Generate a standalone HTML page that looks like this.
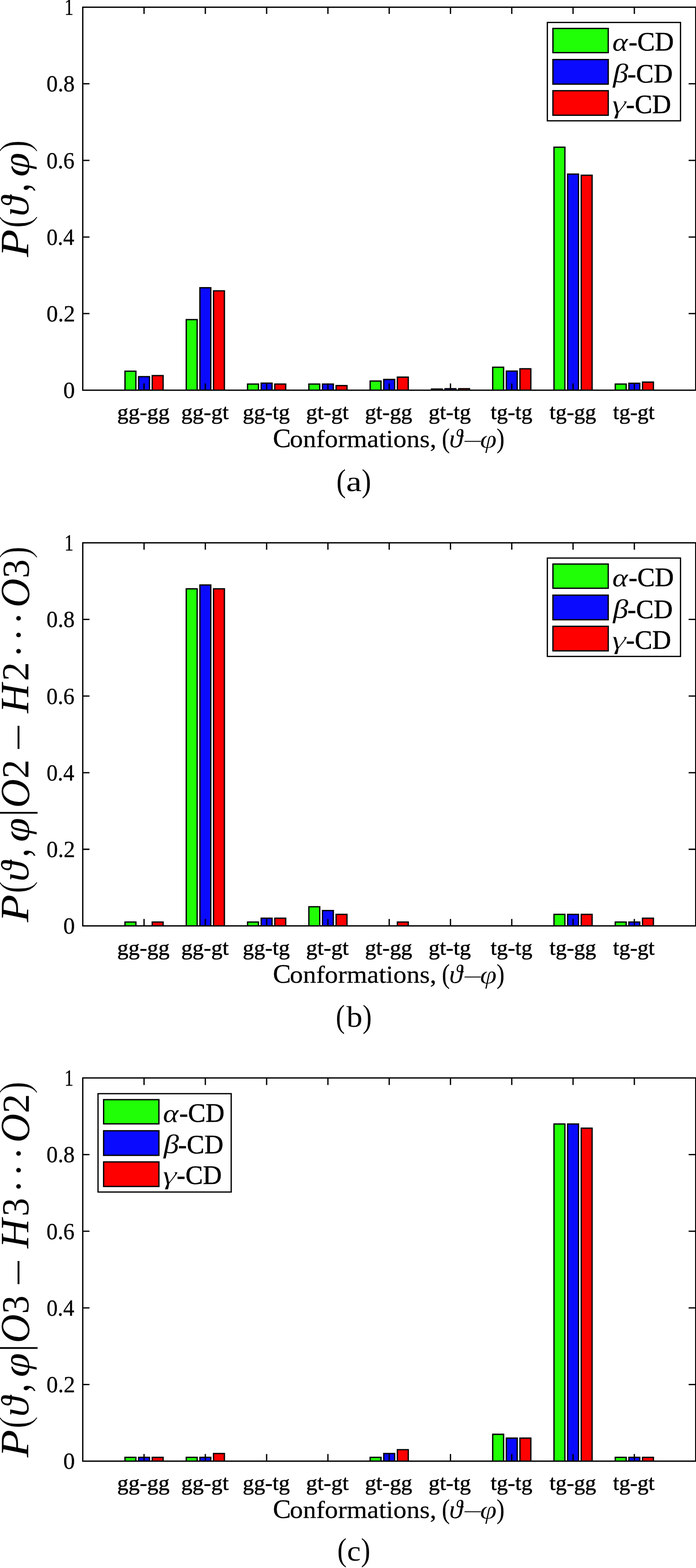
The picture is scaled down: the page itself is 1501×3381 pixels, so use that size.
<!DOCTYPE html>
<html lang="en"><head><meta charset="utf-8"><title>Conformation probabilities</title>
<style>
html,body{margin:0;padding:0;background:#fff;}
body{width:1501px;height:3381px;overflow:hidden;}
svg{display:block;}
text{font-family:"Liberation Serif","DejaVu Serif",serif;fill:#000;stroke:#000;stroke-width:0.4;white-space:pre;}
.cm{stroke:none;}
.xl{stroke-width:0.3;}
.lg{stroke-width:0.7;}
.t3{stroke:#fff;stroke-width:0.5;paint-order:fill stroke;}
.xt{stroke-width:0.7;}
.t2{stroke:#fff;stroke-width:1;paint-order:fill stroke;}
.th{stroke:#fff;stroke-width:1.6;paint-order:fill stroke;}
.it{font-style:italic;}
.ln{stroke:#000;stroke-width:2.8;fill:none;}
.bar{stroke:#000;stroke-width:2.8;}
</style></head><body>
<svg width="1501" height="3381" viewBox="0 0 1501 3381" role="img" aria-label="Conformation probability bar charts (a), (b), (c)">
<rect x="0" y="0" width="1501" height="3381" fill="#fff"/>
<g id="chart-a">
<path class="bar" d="M269.55 841.35V800.47H293.05V841.35" fill="#20ff06"/>
<path class="bar" d="M298.92 841.35V812.2H322.42V841.35" fill="#0a0aff"/>
<path class="bar" d="M328.29 841.35V809.97H351.79V841.35" fill="#ff0000"/>
<path class="bar" d="M401.72 841.35V689.16H425.22V841.35" fill="#20ff06"/>
<path class="bar" d="M431.09 841.35V620.45H454.59V841.35" fill="#0a0aff"/>
<path class="bar" d="M460.46 841.35V627.22H483.96V841.35" fill="#ff0000"/>
<path class="bar" d="M533.89 841.35V828.14H557.39V841.35" fill="#20ff06"/>
<path class="bar" d="M563.26 841.35V826.07H586.76V841.35" fill="#0a0aff"/>
<path class="bar" d="M592.63 841.35V828.14H616.13V841.35" fill="#ff0000"/>
<path class="bar" d="M666.06 841.35V828.14H689.56V841.35" fill="#20ff06"/>
<path class="bar" d="M695.43 841.35V828.14H718.93V841.35" fill="#0a0aff"/>
<path class="bar" d="M724.8 841.35V831.44H748.3V841.35" fill="#ff0000"/>
<path class="bar" d="M798.23 841.35V821.53H821.73V841.35" fill="#20ff06"/>
<path class="bar" d="M827.6 841.35V818.23H851.1V841.35" fill="#0a0aff"/>
<path class="bar" d="M856.97 841.35V813.27H880.47V841.35" fill="#ff0000"/>
<path class="bar" d="M930.4 841.35V838.87H953.9V841.35" fill="#20ff06"/>
<path class="bar" d="M959.77 841.35V838.05H983.27V841.35" fill="#0a0aff"/>
<path class="bar" d="M989.14 841.35V838.05H1012.64V841.35" fill="#ff0000"/>
<path class="bar" d="M1062.57 841.35V791.8H1086.07V841.35" fill="#20ff06"/>
<path class="bar" d="M1091.94 841.35V800.06H1115.44V841.35" fill="#0a0aff"/>
<path class="bar" d="M1121.31 841.35V795.11H1144.81V841.35" fill="#ff0000"/>
<path class="bar" d="M1194.74 841.35V317.38H1218.24V841.35" fill="#20ff06"/>
<path class="bar" d="M1224.11 841.35V375.35H1247.61V841.35" fill="#0a0aff"/>
<path class="bar" d="M1253.48 841.35V377.83H1276.98V841.35" fill="#ff0000"/>
<path class="bar" d="M1326.91 841.35V828.14H1350.41V841.35" fill="#20ff06"/>
<path class="bar" d="M1356.28 841.35V826.49H1379.78V841.35" fill="#0a0aff"/>
<path class="bar" d="M1385.65 841.35V824.01H1409.15V841.35" fill="#ff0000"/>
<path class="ln" d="M310.67 841.35v-14.5M310.67 15.55v14.5M442.84 841.35v-14.5M442.84 15.55v14.5M575.01 841.35v-14.5M575.01 15.55v14.5M707.18 841.35v-14.5M707.18 15.55v14.5M839.35 841.35v-14.5M839.35 15.55v14.5M971.52 841.35v-14.5M971.52 15.55v14.5M1103.69 841.35v-14.5M1103.69 15.55v14.5M1235.86 841.35v-14.5M1235.86 15.55v14.5M1368.03 841.35v-14.5M1368.03 15.55v14.5M178.5 676.19h14.5M1500.4 676.19h-15.3M178.5 511.03h14.5M1500.4 511.03h-15.3M178.5 345.87h14.5M1500.4 345.87h-15.3M178.5 180.71h14.5M1500.4 180.71h-15.3"/>
<rect class="ln" x="178.5" y="15.55" width="1321.9" height="825.8"/>
<text><tspan x="136.49" y="858.1" font-size="50.5" textLength="25.01" lengthAdjust="spacingAndGlyphs">0</tspan></text>
<text><tspan x="100.32" y="692.94" font-size="50.5" textLength="61.7" lengthAdjust="spacingAndGlyphs">0.2</tspan></text>
<text><tspan x="100.38" y="527.78" font-size="50.5" textLength="59.66" lengthAdjust="spacingAndGlyphs">0.4</tspan></text>
<text><tspan x="100.36" y="362.62" font-size="50.5" textLength="60.38" lengthAdjust="spacingAndGlyphs">0.6</tspan></text>
<text><tspan x="100.35" y="197.46" font-size="50.5" textLength="60.81" lengthAdjust="spacingAndGlyphs">0.8</tspan></text>
<text><tspan x="138.88" y="32.3" font-size="50.5" textLength="19.46" lengthAdjust="spacingAndGlyphs">1</tspan></text>
<text class="xt"><tspan x="252.72" y="904.35" font-size="47" textLength="113" lengthAdjust="spacingAndGlyphs">gg-gg</tspan></text>
<text class="xt"><tspan x="390.81" y="904.35" font-size="47" textLength="102.47" lengthAdjust="spacingAndGlyphs">gg-gt</tspan></text>
<text class="xt"><tspan x="523.63" y="904.35" font-size="47" textLength="101.48" lengthAdjust="spacingAndGlyphs">gg-tg</tspan></text>
<text class="xt"><tspan x="660.11" y="904.35" font-size="47" textLength="91.88" lengthAdjust="spacingAndGlyphs">gt-gt</tspan></text>
<text class="xt"><tspan x="786.92" y="904.35" font-size="47" textLength="102.1" lengthAdjust="spacingAndGlyphs">gt-gg</tspan></text>
<text class="xt"><tspan x="924.22" y="904.35" font-size="47" textLength="91.3" lengthAdjust="spacingAndGlyphs">gt-tg</tspan></text>
<text class="xt"><tspan x="1058.03" y="904.35" font-size="47" textLength="89.97" lengthAdjust="spacingAndGlyphs">tg-tg</tspan></text>
<text class="xt"><tspan x="1185.14" y="904.35" font-size="47" textLength="100.47" lengthAdjust="spacingAndGlyphs">tg-gg</tspan></text>
<text class="xt"><tspan x="1321.94" y="904.35" font-size="47" textLength="89.84" lengthAdjust="spacingAndGlyphs">tg-gt</tspan></text>
<text class="xl"><tspan x="588.51" y="964.15" font-size="57.6" textLength="38.91" lengthAdjust="spacingAndGlyphs">C</tspan><tspan x="625.14" y="964.15" font-size="53" textLength="330.17" lengthAdjust="spacingAndGlyphs">onformations, </tspan><tspan x="952.96" y="965.05" font-size="60.2" textLength="16.99" lengthAdjust="spacingAndGlyphs">(</tspan><tspan x="968.79" y="964.15" font-size="54.5" textLength="28.83" lengthAdjust="spacingAndGlyphs" class="it" style="stroke:none">ϑ</tspan><tspan x="1001.68" y="963.55" font-size="55" textLength="35.14" lengthAdjust="spacingAndGlyphs" class="t3">–</tspan><tspan x="1034.95" y="964.75" font-size="54" textLength="36.24" lengthAdjust="spacingAndGlyphs" class="it t3">φ</tspan><tspan x="1071.06" y="965.05" font-size="60.2" textLength="16.99" lengthAdjust="spacingAndGlyphs">)</tspan></text>
<text class="cm"><tspan x="725.4" y="1060.25" font-size="69.8" textLength="20.49" lengthAdjust="spacingAndGlyphs">(</tspan><tspan x="746.54" y="1059.45" font-size="61.5" textLength="33.6" lengthAdjust="spacingAndGlyphs">a</tspan><tspan x="780.03" y="1060.25" font-size="69.8" textLength="20.36" lengthAdjust="spacingAndGlyphs">)</tspan></text>
<text class="cm" transform="translate(61.2 555) rotate(-90)"><tspan x="0.73" y="0" font-size="86" textLength="59.76" lengthAdjust="spacingAndGlyphs" class="it">P</tspan><tspan x="62.66" y="1.05" font-size="92.2" textLength="27.62" lengthAdjust="spacingAndGlyphs" class="th">(</tspan><tspan x="88.46" y="0" font-size="84" textLength="43.54" lengthAdjust="spacingAndGlyphs" class="it">ϑ</tspan><tspan x="141.19" y="0" font-size="100" textLength="36.93" lengthAdjust="spacingAndGlyphs">, </tspan><tspan x="173.79" y="0.6" font-size="79.5" textLength="52.19" lengthAdjust="spacingAndGlyphs" class="it">φ</tspan><tspan x="225.73" y="1.05" font-size="92.2" textLength="27.62" lengthAdjust="spacingAndGlyphs" class="th">)</tspan></text>
<rect x="1180.4" y="48.4" width="287.2" height="212.1" fill="#fff" stroke="#000" stroke-width="2.7"/>
<rect class="bar" x="1192.45" y="61.3" width="119.3" height="52.2" fill="#20ff06"/>
<text><tspan x="1320.4" y="109.2" font-size="55" textLength="33.54" lengthAdjust="spacingAndGlyphs" class="it cm">α</tspan><tspan x="1355.7" y="109.2" font-size="58" textLength="97.57" lengthAdjust="spacingAndGlyphs" class="lg">-CD</tspan></text>
<rect class="bar" x="1192.45" y="128.4" width="119.3" height="53" fill="#0a0aff"/>
<text><tspan x="1321.97" y="176.6" font-size="56.7" textLength="32.93" lengthAdjust="spacingAndGlyphs" class="it cm">β</tspan><tspan x="1352.89" y="177.6" font-size="58" textLength="97.88" lengthAdjust="spacingAndGlyphs" class="lg">-CD</tspan></text>
<rect class="bar" x="1192.45" y="195.6" width="119.3" height="52.9" fill="#ff0000"/>
<text><tspan x="1319.06" y="243.6" font-size="57.3" textLength="31.39" lengthAdjust="spacingAndGlyphs" class="it t2">γ</tspan><tspan x="1350.11" y="243.6" font-size="58" textLength="97.15" lengthAdjust="spacingAndGlyphs" class="lg">-CD</tspan></text>
</g>
<g id="chart-b">
<path class="bar" d="M269.55 1996.45V1988.19H293.05V1996.45" fill="#20ff06"/>
<path class="bar" d="M328.29 1996.45V1988.19H351.79V1996.45" fill="#ff0000"/>
<path class="bar" d="M401.72 1996.45V1269.57H425.22V1996.45" fill="#20ff06"/>
<path class="bar" d="M431.09 1996.45V1261.31H454.59V1996.45" fill="#0a0aff"/>
<path class="bar" d="M460.46 1996.45V1269.57H483.96V1996.45" fill="#ff0000"/>
<path class="bar" d="M533.89 1996.45V1988.19H557.39V1996.45" fill="#20ff06"/>
<path class="bar" d="M563.26 1996.45V1979.93H586.76V1996.45" fill="#0a0aff"/>
<path class="bar" d="M592.63 1996.45V1979.93H616.13V1996.45" fill="#ff0000"/>
<path class="bar" d="M666.06 1996.45V1955.15H689.56V1996.45" fill="#20ff06"/>
<path class="bar" d="M695.43 1996.45V1963.41H718.93V1996.45" fill="#0a0aff"/>
<path class="bar" d="M724.8 1996.45V1971.67H748.3V1996.45" fill="#ff0000"/>
<path class="bar" d="M856.97 1996.45V1988.19H880.47V1996.45" fill="#ff0000"/>
<path class="bar" d="M1194.74 1996.45V1971.67H1218.24V1996.45" fill="#20ff06"/>
<path class="bar" d="M1224.11 1996.45V1971.67H1247.61V1996.45" fill="#0a0aff"/>
<path class="bar" d="M1253.48 1996.45V1971.67H1276.98V1996.45" fill="#ff0000"/>
<path class="bar" d="M1326.91 1996.45V1988.19H1350.41V1996.45" fill="#20ff06"/>
<path class="bar" d="M1356.28 1996.45V1988.19H1379.78V1996.45" fill="#0a0aff"/>
<path class="bar" d="M1385.65 1996.45V1979.93H1409.15V1996.45" fill="#ff0000"/>
<path class="ln" d="M310.67 1996.45v-14.9M310.67 1170.45v14.9M442.84 1996.45v-14.9M442.84 1170.45v14.9M575.01 1996.45v-14.9M575.01 1170.45v14.9M707.18 1996.45v-14.9M707.18 1170.45v14.9M839.35 1996.45v-14.9M839.35 1170.45v14.9M971.52 1996.45v-14.9M971.52 1170.45v14.9M1103.69 1996.45v-14.9M1103.69 1170.45v14.9M1235.86 1996.45v-14.9M1235.86 1170.45v14.9M1368.03 1996.45v-14.9M1368.03 1170.45v14.9M178.5 1831.25h14.5M1500.4 1831.25h-15.3M178.5 1666.05h14.5M1500.4 1666.05h-15.3M178.5 1500.85h14.5M1500.4 1500.85h-15.3M178.5 1335.65h14.5M1500.4 1335.65h-15.3"/>
<rect class="ln" x="178.5" y="1170.45" width="1321.9" height="826"/>
<text><tspan x="136.49" y="2013.2" font-size="50.5" textLength="25.01" lengthAdjust="spacingAndGlyphs">0</tspan></text>
<text><tspan x="100.32" y="1848" font-size="50.5" textLength="61.7" lengthAdjust="spacingAndGlyphs">0.2</tspan></text>
<text><tspan x="100.38" y="1682.8" font-size="50.5" textLength="59.66" lengthAdjust="spacingAndGlyphs">0.4</tspan></text>
<text><tspan x="100.36" y="1517.6" font-size="50.5" textLength="60.38" lengthAdjust="spacingAndGlyphs">0.6</tspan></text>
<text><tspan x="100.35" y="1352.4" font-size="50.5" textLength="60.81" lengthAdjust="spacingAndGlyphs">0.8</tspan></text>
<text><tspan x="138.88" y="1187.2" font-size="50.5" textLength="19.46" lengthAdjust="spacingAndGlyphs">1</tspan></text>
<text class="xt"><tspan x="252.72" y="2059.45" font-size="47" textLength="113" lengthAdjust="spacingAndGlyphs">gg-gg</tspan></text>
<text class="xt"><tspan x="390.81" y="2059.45" font-size="47" textLength="102.47" lengthAdjust="spacingAndGlyphs">gg-gt</tspan></text>
<text class="xt"><tspan x="523.63" y="2059.45" font-size="47" textLength="101.48" lengthAdjust="spacingAndGlyphs">gg-tg</tspan></text>
<text class="xt"><tspan x="660.11" y="2059.45" font-size="47" textLength="91.88" lengthAdjust="spacingAndGlyphs">gt-gt</tspan></text>
<text class="xt"><tspan x="786.92" y="2059.45" font-size="47" textLength="102.1" lengthAdjust="spacingAndGlyphs">gt-gg</tspan></text>
<text class="xt"><tspan x="924.22" y="2059.45" font-size="47" textLength="91.3" lengthAdjust="spacingAndGlyphs">gt-tg</tspan></text>
<text class="xt"><tspan x="1058.03" y="2059.45" font-size="47" textLength="89.97" lengthAdjust="spacingAndGlyphs">tg-tg</tspan></text>
<text class="xt"><tspan x="1185.14" y="2059.45" font-size="47" textLength="100.47" lengthAdjust="spacingAndGlyphs">tg-gg</tspan></text>
<text class="xt"><tspan x="1321.94" y="2059.45" font-size="47" textLength="89.84" lengthAdjust="spacingAndGlyphs">tg-gt</tspan></text>
<text class="xl"><tspan x="588.51" y="2119.25" font-size="57.6" textLength="38.91" lengthAdjust="spacingAndGlyphs">C</tspan><tspan x="625.14" y="2119.25" font-size="53" textLength="330.17" lengthAdjust="spacingAndGlyphs">onformations, </tspan><tspan x="952.96" y="2120.15" font-size="60.2" textLength="16.99" lengthAdjust="spacingAndGlyphs">(</tspan><tspan x="968.79" y="2119.25" font-size="54.5" textLength="28.83" lengthAdjust="spacingAndGlyphs" class="it" style="stroke:none">ϑ</tspan><tspan x="1001.68" y="2118.65" font-size="55" textLength="35.14" lengthAdjust="spacingAndGlyphs" class="t3">–</tspan><tspan x="1034.95" y="2119.85" font-size="54" textLength="36.24" lengthAdjust="spacingAndGlyphs" class="it t3">φ</tspan><tspan x="1071.06" y="2120.15" font-size="60.2" textLength="16.99" lengthAdjust="spacingAndGlyphs">)</tspan></text>
<text class="cm"><tspan x="724.32" y="2215.25" font-size="69.8" textLength="19.58" lengthAdjust="spacingAndGlyphs">(</tspan><tspan x="747.3" y="2214.45" font-size="62.4" textLength="34.42" lengthAdjust="spacingAndGlyphs">b</tspan><tspan x="782.09" y="2215.25" font-size="69.8" textLength="19.71" lengthAdjust="spacingAndGlyphs">)</tspan></text>
<text class="cm" transform="translate(61.2 1989.3) rotate(-90)"><tspan x="0.73" y="0" font-size="86" textLength="59.76" lengthAdjust="spacingAndGlyphs" class="it">P</tspan><tspan x="62.66" y="1.05" font-size="92.2" textLength="27.62" lengthAdjust="spacingAndGlyphs" class="th">(</tspan><tspan x="88.46" y="0" font-size="84" textLength="43.54" lengthAdjust="spacingAndGlyphs" class="it">ϑ</tspan><tspan x="141.19" y="0" font-size="100" textLength="36.93" lengthAdjust="spacingAndGlyphs">, </tspan><tspan x="173.79" y="0.6" font-size="79.5" textLength="52.19" lengthAdjust="spacingAndGlyphs" class="it">φ</tspan><tspan x="228.96" y="0.5" font-size="90.2" textLength="15.27" lengthAdjust="spacingAndGlyphs">|</tspan><tspan x="247.29" y="0.8" font-size="88.5" textLength="61.92" lengthAdjust="spacingAndGlyphs" class="it">O</tspan><tspan x="310.5" y="0" font-size="83" textLength="61.37" lengthAdjust="spacingAndGlyphs">2 </tspan><tspan x="369.06" y="6.1" font-size="82" textLength="87.29" lengthAdjust="spacingAndGlyphs">− </tspan><tspan x="451.74" y="0" font-size="86" textLength="63.41" lengthAdjust="spacingAndGlyphs" class="it">H</tspan><tspan x="520.7" y="0" font-size="83" textLength="61.37" lengthAdjust="spacingAndGlyphs">2 </tspan><tspan x="571.19" y="7.1" font-size="84.6" textLength="27.62" lengthAdjust="spacingAndGlyphs">·</tspan><tspan x="606.29" y="7.1" font-size="84.6" textLength="27.62" lengthAdjust="spacingAndGlyphs">·</tspan><tspan x="642.19" y="7.1" font-size="84.6" textLength="48.35" lengthAdjust="spacingAndGlyphs">· </tspan><tspan x="679.66" y="0.8" font-size="88.5" textLength="62.26" lengthAdjust="spacingAndGlyphs" class="it">O</tspan><tspan x="742.61" y="0.4" font-size="83" textLength="40.67" lengthAdjust="spacingAndGlyphs">3</tspan><tspan x="784.03" y="1.05" font-size="92.2" textLength="27.62" lengthAdjust="spacingAndGlyphs" class="th">)</tspan></text>
<rect x="1180.4" y="1203.3" width="287.2" height="212.1" fill="#fff" stroke="#000" stroke-width="2.7"/>
<rect class="bar" x="1192.45" y="1216.2" width="119.3" height="52.2" fill="#20ff06"/>
<text><tspan x="1320.4" y="1264.1" font-size="55" textLength="33.54" lengthAdjust="spacingAndGlyphs" class="it cm">α</tspan><tspan x="1355.7" y="1264.1" font-size="58" textLength="97.57" lengthAdjust="spacingAndGlyphs" class="lg">-CD</tspan></text>
<rect class="bar" x="1192.45" y="1283.3" width="119.3" height="53" fill="#0a0aff"/>
<text><tspan x="1321.97" y="1331.5" font-size="56.7" textLength="32.93" lengthAdjust="spacingAndGlyphs" class="it cm">β</tspan><tspan x="1352.89" y="1332.5" font-size="58" textLength="97.88" lengthAdjust="spacingAndGlyphs" class="lg">-CD</tspan></text>
<rect class="bar" x="1192.45" y="1350.5" width="119.3" height="52.9" fill="#ff0000"/>
<text><tspan x="1319.06" y="1398.5" font-size="57.3" textLength="31.39" lengthAdjust="spacingAndGlyphs" class="it t2">γ</tspan><tspan x="1350.11" y="1398.5" font-size="58" textLength="97.15" lengthAdjust="spacingAndGlyphs" class="lg">-CD</tspan></text>
</g>
<g id="chart-c">
<path class="bar" d="M269.55 3150.6V3142.34H293.05V3150.6" fill="#20ff06"/>
<path class="bar" d="M298.92 3150.6V3142.34H322.42V3150.6" fill="#0a0aff"/>
<path class="bar" d="M328.29 3150.6V3142.34H351.79V3150.6" fill="#ff0000"/>
<path class="bar" d="M401.72 3150.6V3142.34H425.22V3150.6" fill="#20ff06"/>
<path class="bar" d="M431.09 3150.6V3142.34H454.59V3150.6" fill="#0a0aff"/>
<path class="bar" d="M460.46 3150.6V3134.07H483.96V3150.6" fill="#ff0000"/>
<path class="bar" d="M798.23 3150.6V3142.34H821.73V3150.6" fill="#20ff06"/>
<path class="bar" d="M827.6 3150.6V3134.07H851.1V3150.6" fill="#0a0aff"/>
<path class="bar" d="M856.97 3150.6V3125.81H880.47V3150.6" fill="#ff0000"/>
<path class="bar" d="M1062.57 3150.6V3092.76H1086.07V3150.6" fill="#20ff06"/>
<path class="bar" d="M1091.94 3150.6V3101.02H1115.44V3150.6" fill="#0a0aff"/>
<path class="bar" d="M1121.31 3150.6V3101.02H1144.81V3150.6" fill="#ff0000"/>
<path class="bar" d="M1194.74 3150.6V2423.62H1218.24V3150.6" fill="#20ff06"/>
<path class="bar" d="M1224.11 3150.6V2423.62H1247.61V3150.6" fill="#0a0aff"/>
<path class="bar" d="M1253.48 3150.6V2432.63H1276.98V3150.6" fill="#ff0000"/>
<path class="bar" d="M1326.91 3150.6V3142.34H1350.41V3150.6" fill="#20ff06"/>
<path class="bar" d="M1356.28 3150.6V3142.34H1379.78V3150.6" fill="#0a0aff"/>
<path class="bar" d="M1385.65 3150.6V3142.34H1409.15V3150.6" fill="#ff0000"/>
<path class="ln" d="M310.67 3150.6v-15.3M310.67 2324.3v15.3M442.84 3150.6v-15.3M442.84 2324.3v15.3M575.01 3150.6v-15.3M575.01 2324.3v15.3M707.18 3150.6v-15.3M707.18 2324.3v15.3M839.35 3150.6v-15.3M839.35 2324.3v15.3M971.52 3150.6v-15.3M971.52 2324.3v15.3M1103.69 3150.6v-15.3M1103.69 2324.3v15.3M1235.86 3150.6v-15.3M1235.86 2324.3v15.3M1368.03 3150.6v-15.3M1368.03 2324.3v15.3M178.5 2985.34h14.5M1500.4 2985.34h-15.3M178.5 2820.08h14.5M1500.4 2820.08h-15.3M178.5 2654.82h14.5M1500.4 2654.82h-15.3M178.5 2489.56h14.5M1500.4 2489.56h-15.3"/>
<rect class="ln" x="178.5" y="2324.3" width="1321.9" height="826.3"/>
<text><tspan x="136.49" y="3167.35" font-size="50.5" textLength="25.01" lengthAdjust="spacingAndGlyphs">0</tspan></text>
<text><tspan x="100.32" y="3002.09" font-size="50.5" textLength="61.7" lengthAdjust="spacingAndGlyphs">0.2</tspan></text>
<text><tspan x="100.38" y="2836.83" font-size="50.5" textLength="59.66" lengthAdjust="spacingAndGlyphs">0.4</tspan></text>
<text><tspan x="100.36" y="2671.57" font-size="50.5" textLength="60.38" lengthAdjust="spacingAndGlyphs">0.6</tspan></text>
<text><tspan x="100.35" y="2506.31" font-size="50.5" textLength="60.81" lengthAdjust="spacingAndGlyphs">0.8</tspan></text>
<text><tspan x="138.88" y="2341.05" font-size="50.5" textLength="19.46" lengthAdjust="spacingAndGlyphs">1</tspan></text>
<text class="xt"><tspan x="252.72" y="3213.1" font-size="47" textLength="113" lengthAdjust="spacingAndGlyphs">gg-gg</tspan></text>
<text class="xt"><tspan x="390.81" y="3213.1" font-size="47" textLength="102.47" lengthAdjust="spacingAndGlyphs">gg-gt</tspan></text>
<text class="xt"><tspan x="523.63" y="3213.1" font-size="47" textLength="101.48" lengthAdjust="spacingAndGlyphs">gg-tg</tspan></text>
<text class="xt"><tspan x="660.11" y="3213.1" font-size="47" textLength="91.88" lengthAdjust="spacingAndGlyphs">gt-gt</tspan></text>
<text class="xt"><tspan x="786.92" y="3213.1" font-size="47" textLength="102.1" lengthAdjust="spacingAndGlyphs">gt-gg</tspan></text>
<text class="xt"><tspan x="924.22" y="3213.1" font-size="47" textLength="91.3" lengthAdjust="spacingAndGlyphs">gt-tg</tspan></text>
<text class="xt"><tspan x="1058.03" y="3213.1" font-size="47" textLength="89.97" lengthAdjust="spacingAndGlyphs">tg-tg</tspan></text>
<text class="xt"><tspan x="1185.14" y="3213.1" font-size="47" textLength="100.47" lengthAdjust="spacingAndGlyphs">tg-gg</tspan></text>
<text class="xt"><tspan x="1321.94" y="3213.1" font-size="47" textLength="89.84" lengthAdjust="spacingAndGlyphs">tg-gt</tspan></text>
<text class="xl"><tspan x="588.51" y="3272.9" font-size="57.6" textLength="38.91" lengthAdjust="spacingAndGlyphs">C</tspan><tspan x="625.14" y="3272.9" font-size="53" textLength="330.17" lengthAdjust="spacingAndGlyphs">onformations, </tspan><tspan x="952.96" y="3273.8" font-size="60.2" textLength="16.99" lengthAdjust="spacingAndGlyphs">(</tspan><tspan x="968.79" y="3272.9" font-size="54.5" textLength="28.83" lengthAdjust="spacingAndGlyphs" class="it" style="stroke:none">ϑ</tspan><tspan x="1001.68" y="3272.3" font-size="55" textLength="35.14" lengthAdjust="spacingAndGlyphs" class="t3">–</tspan><tspan x="1034.95" y="3273.5" font-size="54" textLength="36.24" lengthAdjust="spacingAndGlyphs" class="it t3">φ</tspan><tspan x="1071.06" y="3273.8" font-size="60.2" textLength="16.99" lengthAdjust="spacingAndGlyphs">)</tspan></text>
<text class="cm"><tspan x="727.55" y="3365.4" font-size="69.8" textLength="20.1" lengthAdjust="spacingAndGlyphs">(</tspan><tspan x="748.47" y="3365.1" font-size="61.5" textLength="29.47" lengthAdjust="spacingAndGlyphs">c</tspan><tspan x="778.46" y="3365.4" font-size="69.8" textLength="20.1" lengthAdjust="spacingAndGlyphs">)</tspan></text>
<text class="cm" transform="translate(61.2 3143.3) rotate(-90)"><tspan x="0.73" y="0" font-size="86" textLength="59.76" lengthAdjust="spacingAndGlyphs" class="it">P</tspan><tspan x="62.66" y="1.05" font-size="92.2" textLength="27.62" lengthAdjust="spacingAndGlyphs" class="th">(</tspan><tspan x="88.46" y="0" font-size="84" textLength="43.54" lengthAdjust="spacingAndGlyphs" class="it">ϑ</tspan><tspan x="141.19" y="0" font-size="100" textLength="36.93" lengthAdjust="spacingAndGlyphs">, </tspan><tspan x="173.79" y="0.6" font-size="79.5" textLength="52.19" lengthAdjust="spacingAndGlyphs" class="it">φ</tspan><tspan x="228.96" y="0.5" font-size="90.2" textLength="15.27" lengthAdjust="spacingAndGlyphs">|</tspan><tspan x="247.29" y="0.8" font-size="88.5" textLength="61.92" lengthAdjust="spacingAndGlyphs" class="it">O</tspan><tspan x="310.3" y="0" font-size="83" textLength="59.55" lengthAdjust="spacingAndGlyphs">3 </tspan><tspan x="369.06" y="6.1" font-size="82" textLength="87.29" lengthAdjust="spacingAndGlyphs">− </tspan><tspan x="451.74" y="0" font-size="86" textLength="63.41" lengthAdjust="spacingAndGlyphs" class="it">H</tspan><tspan x="520.5" y="0" font-size="83" textLength="59.55" lengthAdjust="spacingAndGlyphs">3 </tspan><tspan x="571.19" y="7.1" font-size="84.6" textLength="27.62" lengthAdjust="spacingAndGlyphs">·</tspan><tspan x="606.29" y="7.1" font-size="84.6" textLength="27.62" lengthAdjust="spacingAndGlyphs">·</tspan><tspan x="642.19" y="7.1" font-size="84.6" textLength="48.35" lengthAdjust="spacingAndGlyphs">· </tspan><tspan x="679.66" y="0.8" font-size="88.5" textLength="62.26" lengthAdjust="spacingAndGlyphs" class="it">O</tspan><tspan x="742.82" y="0.4" font-size="83" textLength="41.91" lengthAdjust="spacingAndGlyphs">2</tspan><tspan x="784.03" y="1.05" font-size="92.2" textLength="27.62" lengthAdjust="spacingAndGlyphs" class="th">)</tspan></text>
<rect x="211.4" y="2358.2" width="287.2" height="212.1" fill="#fff" stroke="#000" stroke-width="2.7"/>
<rect class="bar" x="223.45" y="2371.1" width="119.3" height="52.2" fill="#20ff06"/>
<text><tspan x="351.4" y="2419" font-size="55" textLength="33.54" lengthAdjust="spacingAndGlyphs" class="it cm">α</tspan><tspan x="386.7" y="2419" font-size="58" textLength="97.57" lengthAdjust="spacingAndGlyphs" class="lg">-CD</tspan></text>
<rect class="bar" x="223.45" y="2438.2" width="119.3" height="53" fill="#0a0aff"/>
<text><tspan x="352.97" y="2486.4" font-size="56.7" textLength="32.93" lengthAdjust="spacingAndGlyphs" class="it cm">β</tspan><tspan x="383.89" y="2487.4" font-size="58" textLength="97.88" lengthAdjust="spacingAndGlyphs" class="lg">-CD</tspan></text>
<rect class="bar" x="223.45" y="2505.4" width="119.3" height="52.9" fill="#ff0000"/>
<text><tspan x="350.06" y="2553.4" font-size="57.3" textLength="31.39" lengthAdjust="spacingAndGlyphs" class="it t2">γ</tspan><tspan x="381.11" y="2553.4" font-size="58" textLength="97.15" lengthAdjust="spacingAndGlyphs" class="lg">-CD</tspan></text>
</g>
</svg>
</body></html>
